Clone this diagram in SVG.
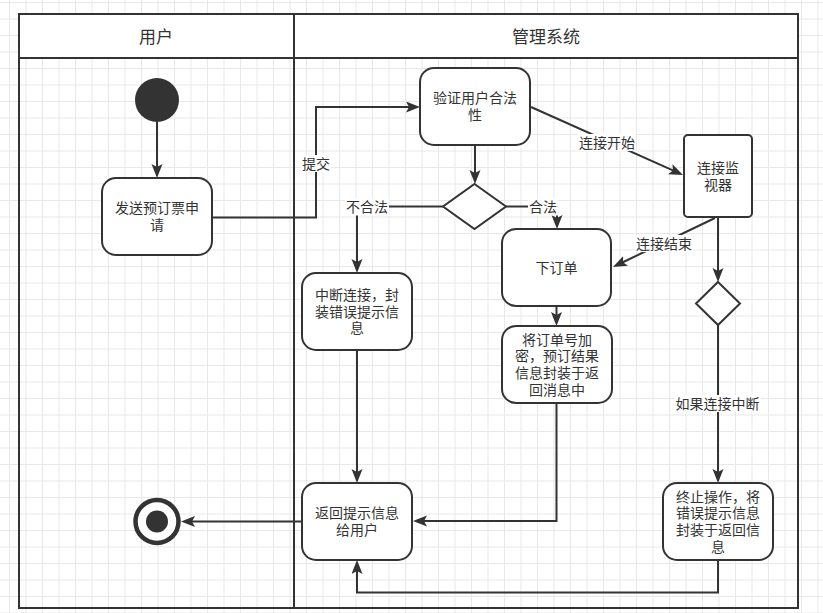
<svg xmlns="http://www.w3.org/2000/svg" width="823" height="613" viewBox="0 0 823 613">
  <defs>
    <pattern id="grid" patternUnits="userSpaceOnUse" x="9" y="2" width="16.5" height="16.5">
      <rect x="0" y="0" width="1" height="16.5" fill="#e8e8e8"/>
      <rect x="0" y="0" width="16.5" height="1" fill="#e8e8e8"/>
    </pattern>
    <marker id="arrow" markerUnits="userSpaceOnUse" markerWidth="16" markerHeight="12" refX="6" refY="5.5" orient="auto">
      <path d="M0,0 L14,5.5 L0,11 L3,5.5 Z" fill="#333"/>
    </marker>
    <style>
      .lane { fill: none; stroke: #333; stroke-width: 2; }
      .head { fill: #fff; stroke: #333; stroke-width: 2; }
      .box { fill: #fff; stroke: #333; stroke-width: 2; }
      .dia { fill: #fff; stroke: #333; stroke-width: 2; }
      .edge { fill: none; stroke: #333; stroke-width: 2; marker-end: url(#arrow); }
      .lbg { fill: #fff; }
      text { font-family: "Liberation Sans", "Noto Sans CJK SC", sans-serif; fill: #333; text-anchor: middle; dominant-baseline: central; }
      .t { font-size: 14px; }
      .h { font-size: 17px; }
    </style>
  </defs>

  <!-- page background and grid -->
  <rect width="823" height="613" fill="#fff"/>
  <rect width="823" height="613" fill="url(#grid)"/>

  <!-- swimlanes -->
  <g id="lanes">
    <rect class="head" x="19" y="14" width="275" height="44"/>
    <rect class="head" x="294" y="14" width="504" height="44"/>
    <rect class="lane" x="19" y="14" width="779" height="594"/>
    <line class="lane" x1="294" y1="14" x2="294" y2="608"/>
    <text class="h" x="156" y="37">用户</text>
    <text class="h" x="546" y="37">管理系统</text>
  </g>

  <!-- connectors -->
  <g id="connectors">
    <path class="edge" d="M157,122 V170"/>
    <path class="edge" d="M212,217.5 H316 V107 H412"/>
    <path class="edge" d="M475,145 V176"/>
    <path class="edge" d="M443,206.5 H357 V265"/>
    <path class="edge" d="M506,206.5 H557 V221"/>
    <path class="edge" d="M531,107 L675.7,171.7"/>
    <path class="edge" d="M715,218 L620.2,263.5"/>
    <path class="edge" d="M718,217 V274"/>
    <path class="edge" d="M556.5,306 V318"/>
    <path class="edge" d="M357,350 V475"/>
    <path class="edge" d="M556.5,403 V521 H421"/>
    <path class="edge" d="M718,325 V475"/>
    <path class="edge" d="M718,560 V592.5 H357 V568"/>
    <path class="edge" d="M302,521.5 H189"/>

    <!-- edge labels -->
    <rect class="lbg" x="301" y="155" width="30" height="17"/>
    <text class="t" x="316" y="163.5">提交</text>
    <rect class="lbg" x="345" y="198.5" width="44" height="17"/>
    <text class="t" x="367" y="207">不合法</text>
    <rect class="lbg" x="528" y="198.5" width="30" height="17"/>
    <text class="t" x="543" y="207">合法</text>
    <rect class="lbg" x="578" y="134" width="58" height="17"/>
    <text class="t" x="607" y="142.5">连接开始</text>
    <rect class="lbg" x="635" y="235" width="58" height="17"/>
    <text class="t" x="664" y="243.5">连接结束</text>
    <rect class="lbg" x="674" y="395" width="87" height="17"/>
    <text class="t" x="717.5" y="403.5">如果连接中断</text>
  </g>

  <!-- initial state -->
  <g id="start">
    <circle cx="157" cy="100" r="22" fill="#333"/>
  </g>

  <!-- final state -->
  <g id="end">
    <circle cx="157" cy="521.5" r="21.5" fill="#fff" stroke="#333" stroke-width="4.5"/>
    <circle cx="157" cy="521.5" r="11" fill="#333"/>
  </g>

  <g id="send-request">
    <rect class="box" x="102" y="178" width="110" height="77" rx="14"/>
    <text class="t" x="157" y="208.2">发送预订票申<tspan x="157" dy="16.6">请</tspan></text>
  </g>

  <g id="validate-user">
    <rect class="box" x="420" y="68" width="110" height="77" rx="14"/>
    <text class="t" x="475" y="98.2">验证用户合法<tspan x="475" dy="16.6">性</tspan></text>
  </g>

  <g id="decision-valid">
    <polygon class="dia" points="474.5,184 506,206.5 474.5,229 443,206.5"/>
  </g>

  <g id="connection-monitor">
    <rect class="box" x="684" y="135" width="68" height="82" rx="4"/>
    <text class="t" x="718" y="168.2">连接监<tspan x="718" dy="16.6">视器</tspan></text>
  </g>

  <g id="place-order">
    <rect class="box" x="502" y="229" width="109" height="77" rx="14"/>
    <text class="t" x="556.5" y="267.5">下订单</text>
  </g>

  <g id="abort-connection">
    <rect class="box" x="302" y="273" width="110" height="77" rx="14"/>
    <text class="t" x="357" y="295">中断连接，封<tspan x="357" dy="16.7">装错误提示信</tspan><tspan x="357" dy="16.7">息</tspan></text>
  </g>

  <g id="encrypt-order">
    <rect class="box" x="502" y="326" width="110" height="77" rx="14"/>
    <text class="t" x="557" y="339.5">将订单号加<tspan x="557" dy="16.7">密，预订结果</tspan><tspan x="557" dy="16.7">信息封装于返</tspan><tspan x="557" dy="16.7">回消息中</tspan></text>
  </g>

  <g id="decision-connection">
    <polygon class="dia" points="718,282 740,303.5 718,325 696,303.5"/>
  </g>

  <g id="return-message">
    <rect class="box" x="302" y="483" width="110" height="77" rx="14"/>
    <text class="t" x="357" y="513.2">返回提示信息<tspan x="357" dy="16.6">给用户</tspan></text>
  </g>

  <g id="terminate">
    <rect class="box" x="663" y="483" width="110" height="77" rx="14"/>
    <text class="t" x="718" y="496.5">终止操作，将<tspan x="718" dy="16.7">错误提示信息</tspan><tspan x="718" dy="16.7">封装于返回信</tspan><tspan x="718" dy="16.7">息</tspan></text>
  </g>
</svg>
